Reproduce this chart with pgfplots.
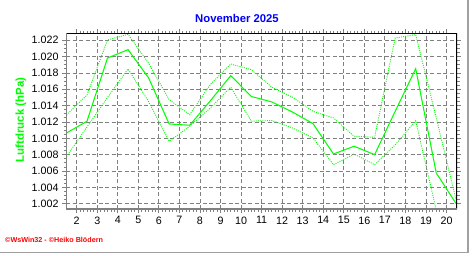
\documentclass[border=0pt]{standalone}
\usepackage{fontspec}
\setmainfont{Liberation Sans}
\usepackage{pgfplots}
\pgfplotsset{compat=1.18}
\definecolor{lgreen}{RGB}{0,255,0}
\definecolor{tblue}{RGB}{0,0,255}
\definecolor{fred}{RGB}{255,0,0}
\definecolor{axgray}{RGB}{128,128,128}
\definecolor{frgray}{RGB}{160,160,160}

\pgfplotstableread{
x mean max min
1.5  1010.65 1012.86 1007.75
2.5  1012.08 1015.30 1011.40
3.5  1019.83 1022.04 1015.00
4.5  1020.85 1022.73 1018.49
5.5  1017.40 1019.18 1014.50
6.5  1011.76 1014.73 1009.64
7.5  1011.60 1012.90 1011.47
8.5  1014.58 1016.57 1013.71
9.5  1017.67 1019.10 1016.25
10.5 1015.12 1018.40 1012.10
11.5 1014.45 1016.25 1012.18
12.5 1013.22 1015.04 1011.27
13.5 1011.80 1013.31 1010.04
14.5 1008.08 1012.49 1006.77
15.5 1009.03 1010.25 1008.08
16.5 1008.00 1010.13 1006.77
17.5 1013.30 1022.28 1009.20
18.5 1018.52 1022.69 1012.16
19.5 1005.76 1012.50 1001.20
20.5 1001.88 1002.10 1001.20
}\pressure

\begin{document}
\begin{tikzpicture}[x=1pt,y=1pt]
\useasboundingbox (0,0) rectangle (472,255);
\draw[frgray, line width=1.6pt] (468,255) -- (468,2.5) -- (0,2.5);
\begin{axis}[
  at={(66pt,46pt)}, anchor=south west,
  width=391pt, height=176pt, scale only axis,
  xmin=1.48, xmax=20.51, ymin=1001.35, ymax=1022.89,
  xtick={2,3,4,5,6,7,8,9,10,11,12,13,14,15,16,17,18,19,20},
  ytick={1002,1004,1006,1008,1010,1012,1014,1016,1018,1020,1022},
  minor x tick num=5, minor y tick num=3,
  tick align=outside,
  major tick length=4pt, minor tick length=2.5pt,
  every tick/.style={axgray, line width=0.8pt},
  xmajorgrids, ymajorgrids,
  grid style={axgray, line width=0.8pt, dash pattern=on 4pt off 2.5pt},
  axis line style={draw=none},
  /pgf/number format/assume math mode=true,
  yticklabel style={/pgf/number format/.cd, fixed, precision=0, 1000 sep={.}},
  xticklabel style={/pgf/number format/.cd, fixed, precision=0},
  tick label style={font=\fontsize{10.7}{12}\selectfont, black},
  clip=true,
]
\addplot[lgreen, line width=1.05pt] table[x=x, y=mean] {\pressure};
\addplot[lgreen, line width=0.9pt, dash pattern=on 1pt off 1.2pt] table[x=x, y=max] {\pressure};
\addplot[lgreen, line width=0.9pt, dash pattern=on 1pt off 1.2pt] table[x=x, y=min] {\pressure};
\draw[black, line width=1.4pt] (rel axis cs:0,1) -- (rel axis cs:1,1) -- (rel axis cs:1,0);
\draw[axgray, line width=2.5pt] (rel axis cs:0,1) -- (rel axis cs:0,0) -- (rel axis cs:1,0);
\end{axis}
\node[text=tblue, font=\bfseries\fontsize{11.3}{13}\selectfont] at (237,236.5) {November 2025};
\node[text=lgreen, rotate=90, font=\bfseries\fontsize{11.5}{13}\selectfont] at (21,135) {Luftdruck (hPa)};
\node[anchor=west, inner sep=0pt, text=fred, font=\bfseries\fontsize{7.2}{9}\selectfont] at (5,15) {©WsWin32 - ©Heiko Blödern};
\end{tikzpicture}
\end{document}
